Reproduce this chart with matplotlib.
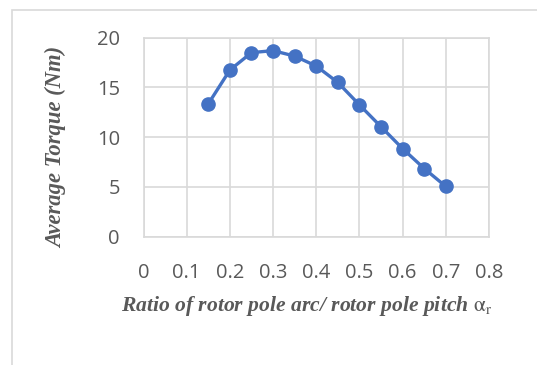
import matplotlib
matplotlib.use("Agg")
import matplotlib.pyplot as plt
from matplotlib.patches import Rectangle

# pole arc ratio vs average torque
ratio = [0.15, 0.2, 0.25, 0.3, 0.35, 0.4, 0.45, 0.5, 0.55, 0.6, 0.65, 0.7]
torque = [13.35, 16.75, 18.5, 18.7, 18.15, 17.15, 15.5, 13.25, 11.05, 8.85, 6.85, 5.05]
xticks = [0, 0.1, 0.2, 0.3, 0.4, 0.5, 0.6, 0.7, 0.8]
xticklabels = ["0", "0.1", "0.2", "0.3", "0.4", "0.5", "0.6", "0.7", "0.8"]
yticks = [0, 5, 10, 15, 20]

W, H = 537, 365
fig = plt.figure(figsize=(W / 100, H / 100), dpi=100)
fig.patch.set_facecolor("white")

# outer chart frame (cut off at right and bottom)
fig.patches.append(Rectangle((12 / W, -0.1), 1.0, 1 - 10 / H + 0.1,
                             transform=fig.transFigure, fill=False,
                             edgecolor="#d9d9d9", linewidth=1.2))

ax = fig.add_axes([143.5 / W, 1 - 236.7 / H, (489 - 143.5) / W, (236.7 - 37.7) / H])
ax.plot(ratio, torque, color="#4472c4", linewidth=2.4, marker="o",
        markersize=9.5, zorder=3)

ax.set_xlim(0, 0.8)
ax.set_ylim(0, 20)
ax.set_xticks(xticks)
ax.set_xticklabels(xticklabels)
ax.set_yticks(yticks)
ax.grid(True, color="#d9d9d9", linewidth=1.2)
ax.set_axisbelow(True)
for s in ax.spines.values():
    s.set_color("#d9d9d9")
    s.set_linewidth(1.2)
ax.tick_params(length=0, labelsize=14.5, labelcolor="#595959")
ax.tick_params(axis="x", pad=19)
ax.tick_params(axis="y", pad=17)
for lbl in ax.get_xticklabels() + ax.get_yticklabels():
    lbl.set_fontfamily("Open Sans")

plt.rcParams["mathtext.fontset"] = "stix"
fig.text(57 / W, 1 - 147 / H, "Average Torque (Nm)", rotation=90,
         ha="center", va="center", fontsize=16.3, fontweight="bold",
         fontstyle="italic", family="Liberation Serif", color="#595959")
fig.text(307 / W, 1 - 306 / H,
         r"Ratio of rotor pole arc/ rotor pole pitch $\mathrm{\alpha_r}$",
         ha="center", va="center", fontsize=15.6, fontweight="bold",
         fontstyle="italic", family="Liberation Serif", color="#595959")

fig.savefig("out.png", dpi=100)
